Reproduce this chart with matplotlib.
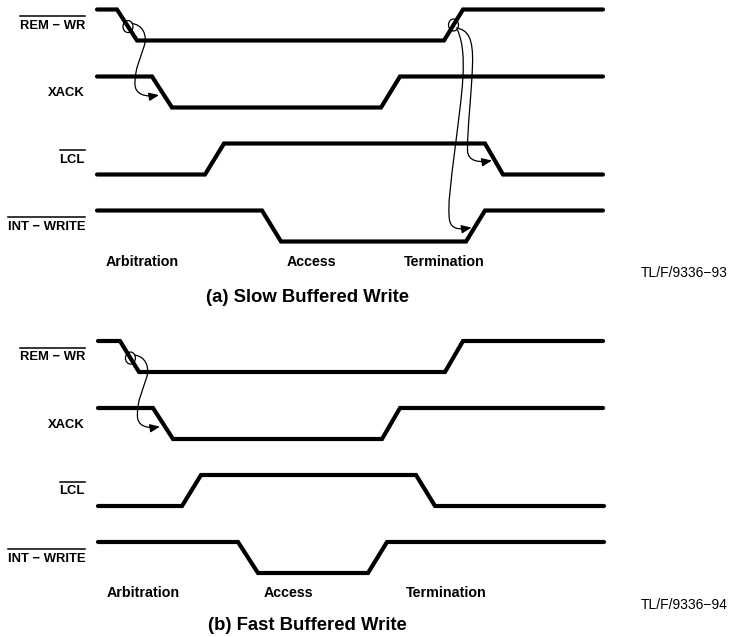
import matplotlib
matplotlib.use("Agg")
import matplotlib.pyplot as plt
from matplotlib.path import Path
from matplotlib.patches import FancyArrowPatch, Ellipse

# ---------------- data ----------------
signal_names = ["REM \u2212 WR", "XACK", "LCL", "INT \u2212 WRITE"]
signal_overline = [True, False, True, True]

# panel (a) Slow Buffered Write : transition times (x) and logic levels
slow_rem_x = [97, 117, 137, 444, 463, 603]
slow_rem_lv = [1, 1, 0, 0, 1, 1]
slow_xack_x = [97, 152, 172, 381, 400, 603]
slow_xack_lv = [1, 1, 0, 0, 1, 1]
slow_lcl_x = [97, 205, 224, 485, 503, 603]
slow_lcl_lv = [0, 0, 1, 1, 0, 0]
slow_int_x = [97, 262, 281, 466, 485, 603]
slow_int_lv = [1, 1, 0, 0, 1, 1]

# panel (b) Fast Buffered Write
fast_rem_x = [98, 120, 139, 445, 463, 603]
fast_rem_lv = [1, 1, 0, 0, 1, 1]
fast_xack_x = [98, 153, 173, 382, 400, 603]
fast_xack_lv = [1, 1, 0, 0, 1, 1]
fast_lcl_x = [98, 182, 201, 416, 435, 604]
fast_lcl_lv = [0, 0, 1, 1, 0, 0]
fast_int_x = [98, 238, 258, 368, 387, 604]
fast_int_lv = [1, 1, 0, 0, 1, 1]

phase_labels = ["Arbitration", "Access", "Termination"]
slow_phase_x = [142, 311, 444]
fast_phase_x = [143, 288, 446]
titles = ["(a) Slow Buffered Write", "(b) Fast Buffered Write"]
fig_ids = ["TL/F/9336\u221293", "TL/F/9336\u221294"]

# ---------------- layout ----------------
W, H = 730, 637
fig = plt.figure(figsize=(W / 100, H / 100), dpi=100)
ax = fig.add_axes([0, 0, 1, 1])
ax.set_xlim(0, W)
ax.set_ylim(H, 0)
ax.axis("off")

AMP = 31          # pixel swing of a signal
ROW = 67          # row pitch
SANS = ["Liberation Sans", "DejaVu Sans"]

panels = [
    dict(top=9.5, waves=[(slow_rem_x, slow_rem_lv), (slow_xack_x, slow_xack_lv),
                         (slow_lcl_x, slow_lcl_lv), (slow_int_x, slow_int_lv)],
         phase_x=slow_phase_x, phase_y=262, title_y=297, id_y=273),
    dict(top=341, waves=[(fast_rem_x, fast_rem_lv), (fast_xack_x, fast_xack_lv),
                         (fast_lcl_x, fast_lcl_lv), (fast_int_x, fast_int_lv)],
         phase_x=fast_phase_x, phase_y=593, title_y=626, id_y=605),
]


def level_y(top, row, lv):
    return [top + row * ROW + (1 - v) * AMP for v in lv]


for p_i, p in enumerate(panels):
    top = p["top"]
    for r, (xs, lv) in enumerate(p["waves"]):
        ax.plot(xs, level_y(top, r, lv), color="black", lw=3.0,
                solid_capstyle="round", solid_joinstyle="miter")
        ymid = top + r * ROW + AMP / 2 + 1
        t = ax.text(85, ymid, signal_names[r], ha="right", va="center",
                    fontsize=9.4, fontweight="bold", family=SANS, color="black")
        if signal_overline[r]:
            fig.canvas.draw()
            bb = t.get_window_extent().transformed(ax.transData.inverted())
            ax.plot([bb.x0, bb.x1], [ymid - 10, ymid - 10], color="black", lw=1.1)
    for lab, x in zip(phase_labels, p["phase_x"]):
        ax.text(x, p["phase_y"], lab, ha="center", va="center",
                fontsize=10.3, fontweight="bold", family=SANS, color="black")
    ax.text(307, p["title_y"], titles[p_i], ha="center", va="center",
            fontsize=13.3, fontweight="bold", family=SANS, color="black")
    ax.text(728, p["id_y"], fig_ids[p_i], ha="right", va="center",
            fontsize=10, family=SANS, color="black")


def edge_point(xs, lv, top, row, k, frac):
    """point on transition k (between xs[k] and xs[k+1]) at fraction frac"""
    ys = level_y(top, row, lv)
    return (xs[k] + (xs[k + 1] - xs[k]) * frac, ys[k] + (ys[k + 1] - ys[k]) * frac)


def circle(c):
    ax.add_patch(Ellipse(c, 10, 12, fill=False, lw=0.9, color="black"))


def curve(pts):
    codes = [Path.MOVETO] + [Path.CURVE4] * (len(pts) - 1)
    arr = FancyArrowPatch(path=Path(pts, codes), arrowstyle="-|>,head_length=6,head_width=2.5",
                          lw=0.9, color="black", shrinkA=0, shrinkB=0)
    ax.add_patch(arr)


# (a) REM-WR falling edge -> XACK falling edge
c = edge_point(slow_rem_x, slow_rem_lv, 9.5, 0, 1, 0.55)
circle(c)
tgt = edge_point(slow_xack_x, slow_xack_lv, 9.5, 1, 1, 0.6)
curve([(c[0] + 4, c[1] - 3), (c[0] + 14, c[1] - 2), (c[0] + 20, c[1] + 8), (c[0] + 16, c[1] + 20),
       (c[0] + 12, c[1] + 33), (c[0] + 7, c[1] + 42), (c[0] + 7, c[1] + 56),
       (c[0] + 6, c[1] + 69), (tgt[0] - 17, tgt[1] + 2), (tgt[0] - 5, tgt[1])])

# (a) REM-WR rising edge -> LCL falling edge and INT-WRITE rising edge
c2 = edge_point(slow_rem_x, slow_rem_lv, 9.5, 0, 3, 0.5)
circle(c2)
t1 = edge_point(slow_lcl_x, slow_lcl_lv, 9.5, 2, 3, 0.55)
curve([(c2[0] + 3, c2[1] + 3), (c2[0] + 14, c2[1] + 5), (c2[0] + 20, c2[1] + 12), (c2[0] + 19, c2[1] + 40),
       (c2[0] + 18, c2[1] + 70), (c2[0] + 14, c2[1] + 100), (c2[0] + 14, c2[1] + 125),
       (c2[0] + 14, c2[1] + 137), (t1[0] - 15, t1[1] + 2), (t1[0] - 3, t1[1])])
t2 = edge_point(slow_int_x, slow_int_lv, 9.5, 3, 3, 0.45)
curve([(c2[0] + 4, c2[1] + 5), (c2[0] + 15, c2[1] + 30), (c2[0] + 8, c2[1] + 70), (c2[0] + 2, c2[1] + 120),
       (c2[0] - 3, c2[1] + 160), (c2[0] - 6, c2[1] + 180), (c2[0] - 4, c2[1] + 195),
       (c2[0] - 2, c2[1] + 205), (t2[0] - 15, t2[1] + 2), (t2[0] - 3, t2[1])])

# (b) REM-WR falling edge -> XACK falling edge
c3 = edge_point(fast_rem_x, fast_rem_lv, 341, 0, 1, 0.55)
circle(c3)
tgt3 = edge_point(fast_xack_x, fast_xack_lv, 341, 1, 1, 0.6)
curve([(c3[0] + 4, c3[1] - 3), (c3[0] + 14, c3[1] - 2), (c3[0] + 20, c3[1] + 8), (c3[0] + 16, c3[1] + 20),
       (c3[0] + 12, c3[1] + 33), (c3[0] + 7, c3[1] + 42), (c3[0] + 7, c3[1] + 56),
       (c3[0] + 6, c3[1] + 69), (tgt3[0] - 17, tgt3[1] + 2), (tgt3[0] - 5, tgt3[1])])

fig.savefig("out.png", dpi=100, facecolor="white")
